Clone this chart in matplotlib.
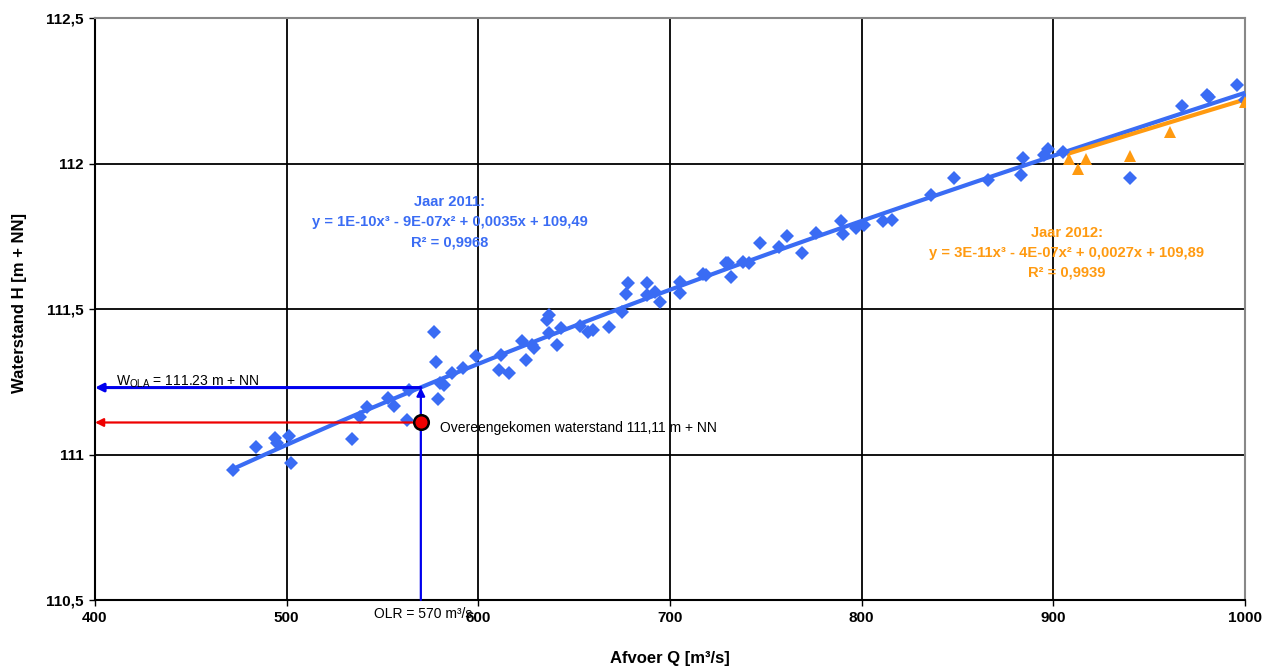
import numpy as np
import matplotlib
matplotlib.use("Agg")
import matplotlib.pyplot as plt

plt.rcParams['font.family'] = ['Liberation Sans', 'DejaVu Sans']
plt.rcParams['mathtext.fontset'] = 'custom'
plt.rcParams['mathtext.rm'] = 'Liberation Sans'
plt.rcParams['mathtext.it'] = 'Liberation Sans:italic'
plt.rcParams['mathtext.bf'] = 'Liberation Sans:bold'

# Data 2011 (blue diamonds)
q_2011 = [472, 484, 494, 495, 501, 502, 534, 538, 542, 553, 556, 563, 564,
          577, 578, 579, 580, 582, 586, 592, 599, 611, 616, 612, 623, 628, 629,
          625, 636, 637, 637, 641, 643, 653, 657, 660, 668, 675, 678, 677, 688,
          688, 692, 695, 705, 705, 717, 719, 729, 730, 732, 738, 741, 747, 757,
          761, 769, 776, 789, 790, 797, 801, 811, 816, 836, 848, 866, 884, 883,
          895, 897, 905, 940, 967, 980, 981, 996, 1000]
h_2011 = [110.947, 111.026, 111.057, 111.040, 111.064, 110.971, 111.053, 111.129,
          111.163, 111.194, 111.167, 111.119, 111.222, 111.421, 111.318, 111.191,
          111.246, 111.239, 111.280, 111.297, 111.338, 111.290, 111.280, 111.342,
          111.390, 111.376, 111.366, 111.325, 111.462, 111.479, 111.418, 111.376,
          111.435, 111.442, 111.421, 111.428, 111.438, 111.490, 111.589, 111.552,
          111.589, 111.548, 111.558, 111.524, 111.593, 111.555, 111.620, 111.617,
          111.658, 111.658, 111.610, 111.662, 111.658, 111.727, 111.713, 111.751,
          111.692, 111.761, 111.802, 111.758, 111.778, 111.789, 111.802, 111.806,
          111.892, 111.950, 111.943, 112.019, 111.960, 112.029, 112.050, 112.040,
          111.950, 112.198, 112.235, 112.229, 112.270, 112.218]

# Data 2012 (orange triangles)
q_2012 = [908, 913, 917, 940, 961, 1000]
h_2012 = [112.015, 111.981, 112.015, 112.026, 112.108, 112.21]

# Trendline coefficients for 2012 as printed on the chart
coef_2012 = [3e-11, -4e-7, 0.0027, 109.89]

# Reference values
q_olr = 570
h_ola = 111.23
h_agreed = 111.11

x_ticks = [400, 500, 600, 700, 800, 900, 1000]
y_ticks = [110.5, 111.0, 111.5, 112.0, 112.5]
y_tick_labels = ['110,5', '111', '111,5', '112', '112,5']

blue = '#3A6CF4'
orange = '#FF9A10'

fig = plt.figure(figsize=(12.8, 6.69), dpi=100)
ax = fig.add_axes([95/1280, 1-600/669, 1150/1280, 582/669])

ax.set_xlim(400, 1000)
ax.set_ylim(110.5, 112.5)
ax.set_xticks(x_ticks)
ax.set_yticks(y_ticks)
ax.set_xticklabels([str(v) for v in x_ticks], fontsize=11, fontweight='bold')
ax.set_yticklabels(y_tick_labels, fontsize=11, fontweight='bold')
ax.tick_params(direction='out', length=4, width=1, colors='black', pad=4)
ax.grid(True, color='black', linewidth=1.3, zorder=0)
ax.set_axisbelow(True)
for s in ['left', 'bottom']:
    ax.spines[s].set_color('black')
    ax.spines[s].set_linewidth(1.5)
for s in ['top', 'right']:
    ax.spines[s].set_color('#888888')
    ax.spines[s].set_linewidth(1.5)

# Trendlines
c2011 = np.polyfit(q_2011, h_2011, 3)
xs = np.linspace(min(q_2011), 1000, 300)
ax.plot(xs, np.polyval(c2011, xs), color=blue, lw=3, zorder=3)
xs2 = np.linspace(min(q_2012), 1000, 200)
ax.plot(xs2, np.polyval(coef_2012, xs2), color=orange, lw=3, zorder=3)

# Points
ax.plot(q_2011, h_2011, 'D', color=blue, markersize=7.2, markeredgewidth=0, zorder=4)
ax.plot(q_2012, h_2012, '^', color=orange, markersize=8, markeredgewidth=0, zorder=4)

# Reference arrows
ax.annotate('', xy=(400, h_ola), xytext=(q_olr, h_ola),
            arrowprops=dict(arrowstyle='-|>', color='#0000EE', lw=2.2,
                            mutation_scale=12, shrinkA=0, shrinkB=0), zorder=5)
ax.annotate('', xy=(400, h_agreed), xytext=(q_olr, h_agreed),
            arrowprops=dict(arrowstyle='-|>', color='#EE0000', lw=1.6,
                            mutation_scale=12, shrinkA=0, shrinkB=0), zorder=5)
ax.annotate('', xy=(q_olr, h_ola), xytext=(q_olr, 110.5),
            arrowprops=dict(arrowstyle='-|>', color='#0000EE', lw=1.6,
                            mutation_scale=12, shrinkA=0, shrinkB=0), zorder=5)
ax.plot([q_olr], [h_agreed], 'o', color='#EE0000', markersize=10.5,
        markeredgecolor='black', markeredgewidth=1.8, zorder=6)

ax.text(411, h_ola - 0.008, r'W$_{\mathrm{OLA}}$ = 111.23 m + NN', fontsize=10,
        ha='left', va='bottom', color='black', zorder=6)
ax.text(580, h_agreed - 0.02, 'Overeengekomen waterstand 111,11 m + NN', fontsize=10,
        ha='left', va='center', color='black', zorder=6)
ax.text(571, -0.012, 'OLR = 570 m³/s', fontsize=10, ha='center', va='top',
        transform=ax.get_xaxis_transform(), clip_on=False)

# Equations
fs_eq = 10.6
ax.text(585, 111.868, 'Jaar 2011:', color=blue, fontsize=fs_eq, fontweight='bold',
        ha='center', va='center', zorder=6)
ax.text(585, 111.799, 'y = 1E-10x³ - 9E-07x² + 0,0035x + 109,49', color=blue,
        fontsize=fs_eq, fontweight='bold', ha='center', va='center', zorder=6)
ax.text(585, 111.730, 'R² = 0,9968', color=blue, fontsize=fs_eq, fontweight='bold',
        ha='center', va='center', zorder=6)

ax.text(907, 111.761, 'Jaar 2012:', color=orange, fontsize=fs_eq, fontweight='bold',
        ha='center', va='center', zorder=6)
ax.text(907, 111.692, 'y = 3E-11x³ - 4E-07x² + 0,0027x + 109,89', color=orange,
        fontsize=fs_eq, fontweight='bold', ha='center', va='center', zorder=6)
ax.text(907, 111.624, 'R² = 0,9939', color=orange, fontsize=fs_eq, fontweight='bold',
        ha='center', va='center', zorder=6)

fig.text(670/1280, 1-658/669, 'Afvoer Q [m³/s]', fontsize=12, fontweight='bold',
         ha='center', va='center')
fig.text(20/1280, 1-303/669, 'Waterstand H [m + NN]', fontsize=12, fontweight='bold',
         ha='center', va='center', rotation=90)

fig.savefig('out.png', dpi=100)
